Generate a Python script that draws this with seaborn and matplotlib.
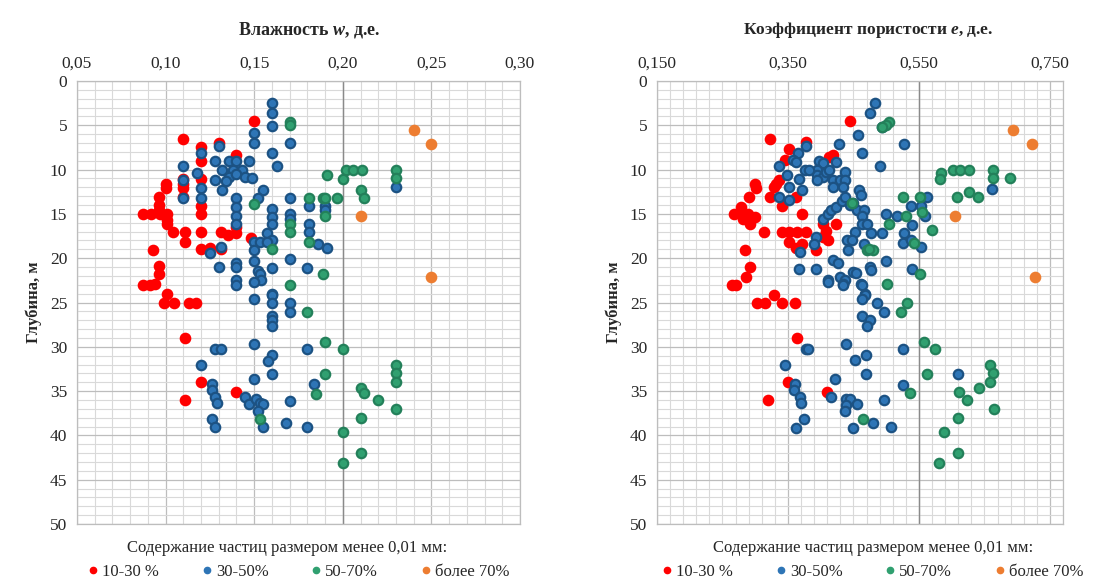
import matplotlib
matplotlib.use("Agg")
import numpy as np
import pandas as pd
import seaborn as sns
import matplotlib.pyplot as plt
from matplotlib.ticker import FuncFormatter
from matplotlib.lines import Line2D

# ---------------- data: left panel (moisture w vs depth) ----------------
w_red = [0.150, 0.110, 0.120, 0.130, 0.140, 0.120, 0.110, 0.120, 0.110, 0.110, 0.100, 0.100,
         0.110, 0.096, 0.096, 0.096, 0.087, 0.092, 0.097, 0.101, 0.120, 0.120, 0.101, 0.101,
         0.104, 0.111, 0.111, 0.120, 0.131, 0.135, 0.140, 0.140, 0.148, 0.120, 0.125, 0.131,
         0.093, 0.096, 0.096, 0.087, 0.091, 0.094, 0.101, 0.099, 0.105, 0.113, 0.117, 0.111,
         0.120, 0.140, 0.111]
dw_red = [4.5, 6.6, 7.4, 7.0, 8.4, 9.0, 11.1, 11.1, 11.6, 12.1, 11.6, 12.1,
          13.1, 13.1, 14.0, 14.6, 15.0, 15.0, 15.0, 15.0, 14.1, 15.0, 15.7, 16.1,
          17.0, 17.0, 18.2, 17.0, 17.0, 17.4, 16.5, 17.2, 17.7, 19.0, 18.8, 19.0,
          19.1, 20.9, 21.8, 23.0, 23.0, 22.9, 24.0, 25.0, 25.0, 25.0, 25.0, 29.0,
          34.0, 35.1, 36.0]

w_blue = [0.160, 0.160, 0.160, 0.150, 0.150, 0.170, 0.130, 0.120, 0.160, 0.163, 0.110, 0.128,
          0.136, 0.140, 0.147, 0.132, 0.138, 0.143, 0.136, 0.140, 0.145, 0.149, 0.128, 0.134,
          0.110, 0.118, 0.120, 0.120, 0.110, 0.132, 0.155, 0.152, 0.140, 0.140, 0.140, 0.140,
          0.160, 0.160, 0.160, 0.157, 0.160, 0.170, 0.170, 0.170, 0.181, 0.190, 0.190, 0.181,
          0.181, 0.186, 0.191, 0.125, 0.131, 0.150, 0.153, 0.157, 0.150, 0.150, 0.170, 0.180,
          0.160, 0.130, 0.140, 0.140, 0.140, 0.140, 0.152, 0.153, 0.154, 0.150, 0.160, 0.230,
          0.150, 0.160, 0.160, 0.170, 0.170, 0.160, 0.160, 0.160, 0.128, 0.131, 0.150, 0.180,
          0.120, 0.160, 0.158, 0.160, 0.150, 0.184, 0.126, 0.126, 0.128, 0.129, 0.145, 0.147,
          0.151, 0.153, 0.155, 0.152, 0.155, 0.126, 0.128, 0.170, 0.168, 0.180]
dw_blue = [2.5, 3.6, 5.1, 5.9, 7.0, 7.0, 7.3, 8.1, 8.1, 9.6, 9.6, 9.0,
           9.0, 9.0, 9.0, 10.0, 10.0, 10.0, 10.8, 10.5, 10.8, 11.0, 11.2, 11.3,
           11.2, 10.4, 12.1, 13.2, 13.2, 12.3, 12.3, 13.2, 13.2, 14.2, 15.2, 16.1,
           14.4, 15.4, 16.1, 17.1, 18.0, 13.2, 15.0, 15.6, 14.1, 14.1, 14.6, 16.1,
           17.0, 18.4, 18.8, 19.4, 18.7, 18.2, 18.2, 18.2, 19.1, 20.3, 20.1, 21.1,
           21.1, 21.0, 20.5, 21.0, 22.5, 23.0, 21.4, 21.8, 22.5, 22.7, 24.0, 12.0,
           24.6, 24.1, 25.0, 25.1, 26.1, 26.5, 27.0, 27.6, 30.2, 30.2, 29.7, 30.2,
           32.1, 30.9, 31.6, 33.1, 33.6, 34.2, 34.2, 34.9, 35.7, 36.3, 35.7, 36.4,
           35.9, 36.3, 36.4, 37.2, 39.1, 38.2, 39.1, 36.1, 38.6, 39.1]

w_green = [0.170, 0.170, 0.191, 0.200, 0.202, 0.206, 0.211, 0.230, 0.230, 0.210, 0.212, 0.181,
           0.189, 0.197, 0.190, 0.190, 0.150, 0.170, 0.170, 0.181, 0.160, 0.189, 0.170, 0.180,
           0.190, 0.200, 0.190, 0.185, 0.153, 0.200, 0.200, 0.210, 0.212, 0.220, 0.230, 0.230,
           0.230, 0.230, 0.210, 0.210]
dw_green = [4.6, 5.0, 10.6, 11.1, 10.1, 10.1, 10.1, 10.1, 11.0, 12.3, 13.2, 13.2,
            13.2, 13.2, 13.2, 15.2, 13.9, 16.1, 17.0, 18.2, 19.0, 21.8, 23.0, 26.1,
            29.5, 30.2, 33.1, 35.3, 38.2, 39.6, 43.1, 34.6, 35.2, 36.0, 32.0, 33.0,
            34.0, 37.0, 38.0, 42.0]

w_orange = [0.240, 0.250, 0.210, 0.250]
dw_orange = [5.5, 7.1, 15.2, 22.1]

# ---------------- data: right panel (void ratio e vs depth) ----------------
e_red = [0.445, 0.322, 0.351, 0.346, 0.377, 0.419, 0.413, 0.300, 0.301, 0.331, 0.336, 0.329,
         0.323, 0.341, 0.362, 0.290, 0.279, 0.268, 0.279, 0.289, 0.282, 0.292, 0.300, 0.313,
         0.372, 0.341, 0.352, 0.364, 0.377, 0.351, 0.372, 0.362, 0.403, 0.408, 0.424, 0.411,
         0.403, 0.393, 0.284, 0.292, 0.286, 0.270, 0.265, 0.302, 0.315, 0.328, 0.341, 0.361,
         0.364, 0.350, 0.409, 0.320]
de_red = [4.5, 6.6, 7.7, 8.9, 6.9, 8.4, 8.6, 11.6, 12.1, 11.6, 11.2, 12.0,
          13.1, 14.1, 13.1, 13.1, 14.2, 15.0, 15.0, 15.0, 15.6, 16.1, 15.4, 17.0,
          15.0, 17.0, 17.0, 17.0, 17.0, 18.2, 18.4, 18.9, 16.1, 16.9, 16.1, 18.0,
          17.6, 19.1, 19.1, 21.0, 22.1, 23.0, 23.0, 25.0, 25.0, 24.1, 25.0, 25.0,
          29.0, 34.0, 35.1, 36.0]

e_blue = [0.483, 0.476, 0.457, 0.463, 0.428, 0.527, 0.493, 0.490, 0.378, 0.366, 0.357, 0.362,
          0.336, 0.398, 0.403, 0.395, 0.395, 0.403, 0.408, 0.413, 0.424, 0.376, 0.382, 0.395,
          0.419, 0.429, 0.437, 0.437, 0.419, 0.434, 0.349, 0.367, 0.351, 0.372, 0.336, 0.351,
          0.403, 0.411, 0.416, 0.424, 0.432, 0.437, 0.445, 0.455, 0.450, 0.458, 0.461, 0.466,
          0.463, 0.463, 0.471, 0.453, 0.440, 0.448, 0.442, 0.466, 0.369, 0.393, 0.390, 0.367,
          0.393, 0.419, 0.427, 0.411, 0.429, 0.437, 0.434, 0.450, 0.461, 0.476, 0.468, 0.477,
          0.454, 0.499, 0.539, 0.563, 0.538, 0.553, 0.559, 0.499, 0.516, 0.540, 0.527, 0.526,
          0.538, 0.553, 0.494, 0.477, 0.661, 0.411, 0.434, 0.463, 0.468, 0.463, 0.486, 0.497,
          0.463, 0.476, 0.470, 0.377, 0.380, 0.438, 0.526, 0.346, 0.453, 0.469, 0.469, 0.422,
          0.609, 0.525, 0.361, 0.359, 0.368, 0.370, 0.416, 0.438, 0.445, 0.455, 0.438, 0.437,
          0.497, 0.480, 0.508, 0.449, 0.374, 0.363]
de_blue = [2.5, 3.6, 6.1, 8.1, 7.1, 7.1, 5.2, 9.6, 7.3, 8.1, 8.9, 9.1,
           9.6, 9.0, 9.3, 10.1, 10.6, 10.8, 10.3, 10.1, 9.1, 10.1, 10.1, 11.2,
           11.2, 11.2, 10.3, 11.2, 12.0, 12.0, 10.6, 11.1, 12.0, 12.3, 13.1, 13.4,
           15.6, 15.0, 14.6, 14.2, 13.5, 13.1, 14.0, 14.6, 13.8, 12.3, 12.9, 14.6,
           15.2, 16.1, 16.1, 17.0, 18.0, 18.0, 19.1, 18.4, 19.3, 17.6, 18.4, 21.2,
           21.2, 20.2, 20.5, 22.5, 22.1, 22.5, 22.9, 21.6, 22.9, 21.0, 24.0, 21.3,
           21.7, 20.3, 21.2, 13.1, 14.1, 14.1, 15.2, 15.0, 15.2, 16.2, 17.1, 18.3,
           18.0, 18.7, 17.1, 17.2, 12.2, 22.7, 23.0, 23.0, 24.2, 24.6, 25.1, 26.1,
           26.5, 27.0, 27.6, 30.2, 30.2, 29.7, 30.2, 32.1, 31.5, 30.9, 33.1, 33.6,
           33.1, 34.3, 34.2, 34.9, 35.7, 36.3, 35.7, 35.9, 35.9, 36.4, 36.6, 37.2,
           36.0, 38.6, 39.1, 39.2, 38.2, 39.2]

e_green = [0.504, 0.499, 0.494, 0.584, 0.582, 0.602, 0.613, 0.626, 0.663, 0.663, 0.689, 0.626,
           0.640, 0.608, 0.525, 0.551, 0.555, 0.531, 0.504, 0.570, 0.543, 0.470, 0.480, 0.448,
           0.473, 0.501, 0.551, 0.532, 0.523, 0.557, 0.575, 0.563, 0.658, 0.663, 0.658, 0.642,
           0.611, 0.624, 0.665, 0.537, 0.465, 0.610, 0.588, 0.610, 0.580]
de_green = [4.6, 5.0, 5.2, 10.4, 11.1, 10.1, 10.1, 10.1, 10.1, 11.0, 11.0, 12.5,
            13.1, 13.1, 13.1, 13.1, 14.8, 15.2, 16.1, 16.8, 18.3, 19.1, 19.1, 13.8,
            19.0, 22.9, 21.8, 25.1, 26.1, 29.5, 30.2, 33.1, 32.0, 33.0, 34.0, 34.7,
            35.1, 36.0, 37.0, 35.2, 38.2, 38.0, 39.6, 42.0, 43.1]

e_orange = [0.693, 0.723, 0.605, 0.727]
de_orange = [5.5, 7.1, 15.2, 22.1]

labels = ["10-30 %", "30-50%", "50-70%", "более 70%"]

# ---------------- styling ----------------
sns.set_theme(style="white")
plt.rcParams["font.family"] = ["Liberation Serif", "DejaVu Serif"]
plt.rcParams["mathtext.fontset"] = "custom"
plt.rcParams["mathtext.it"] = "Liberation Serif:italic:bold"
plt.rcParams["mathtext.rm"] = "Liberation Serif:bold"

face = ["#ff0000", "#2e75b6", "#30a070", "#ed7d31"]
edge = ["#ff0000", "#1c5283", "#23805a", "#ed7d31"]

W, H = 1094, 582
fig = plt.figure(figsize=(W / 100, H / 100), dpi=100)
axL = fig.add_axes([77 / W, 1 - 524 / H, 443 / W, 443 / H])
axR = fig.add_axes([657 / W, 1 - 524 / H, 406 / W, 443 / H])

comma2 = FuncFormatter(lambda v, p: f"{v:.2f}".replace(".", ","))
comma3 = FuncFormatter(lambda v, p: f"{v:.3f}".replace(".", ","))


def style(ax, xmin, xmax, major, minor, axis_x, fmt):
    ax.set_xlim(xmin, xmax)
    ax.set_ylim(50, 0)
    ax.xaxis.tick_top()
    ax.set_xticks(np.arange(xmin, xmax + 1e-9, major))
    ax.set_xticks(np.arange(xmin, xmax + 1e-9, minor), minor=True)
    ax.set_yticks(range(0, 51, 5))
    ax.set_yticks(range(0, 51, 1), minor=True)
    ax.xaxis.set_major_formatter(fmt)
    ax.set_axisbelow(True)
    ax.grid(which="minor", color="#d9d9d9", lw=0.8)
    ax.grid(which="major", color="#bdbdbd", lw=0.9)
    ax.axvline(axis_x, color="#8a8a8a", lw=1.0, zorder=1)
    ax.tick_params(which="both", length=0, labelsize=12.5, pad=7)
    for s in ax.spines.values():
        s.set_color("#bdbdbd")
        s.set_linewidth(0.9)
    ax.set_xlabel("")
    ax.set_ylabel("Глубина, м", fontsize=12, fontweight="bold", labelpad=6)


def draw(ax, xs, ys):
    for i, (x, y) in enumerate(zip(xs, ys)):
        sns.scatterplot(x=x, y=y, ax=ax, color=face[i], edgecolor=edge[i],
                        s=46, linewidth=1.6, legend=False, zorder=3)


draw(axL, [w_red, w_blue, w_green, w_orange], [dw_red, dw_blue, dw_green, dw_orange])
draw(axR, [e_red, e_blue, e_green, e_orange], [de_red, de_blue, de_green, de_orange])

style(axL, 0.05, 0.30, 0.05, 0.01, 0.20, comma2)
style(axR, 0.15, 0.77, 0.20, 0.02, 0.55, comma3)

fig.text(309 / W, 1 - 30 / H, r"Влажность $\mathit{w}$, д.е.", ha="center", va="center",
         fontsize=13, fontweight="bold")
fig.text(868 / W, 1 - 30 / H, r"Коэффициент пористости $\mathit{e}$, д.е.", ha="center",
         va="center", fontsize=12.5, fontweight="bold")

handles = [Line2D([], [], ls="", marker="o", ms=4.5, mfc=face[i], mec=face[i]) for i in range(4)]
for tx, lx in ((287, 297), (873, 871)):
    fig.text(tx / W, 1 - 548 / H, "Содержание частиц размером менее 0,01 мм:",
             ha="center", va="center", fontsize=12)
    fig.legend(handles, labels, loc="center", bbox_to_anchor=(lx / W, 1 - 572 / H),
               ncol=4, frameon=False, fontsize=12, handletextpad=0.05,
               columnspacing=2.35, handlelength=1.0, borderaxespad=0)

fig.savefig("out.png", dpi=100)
